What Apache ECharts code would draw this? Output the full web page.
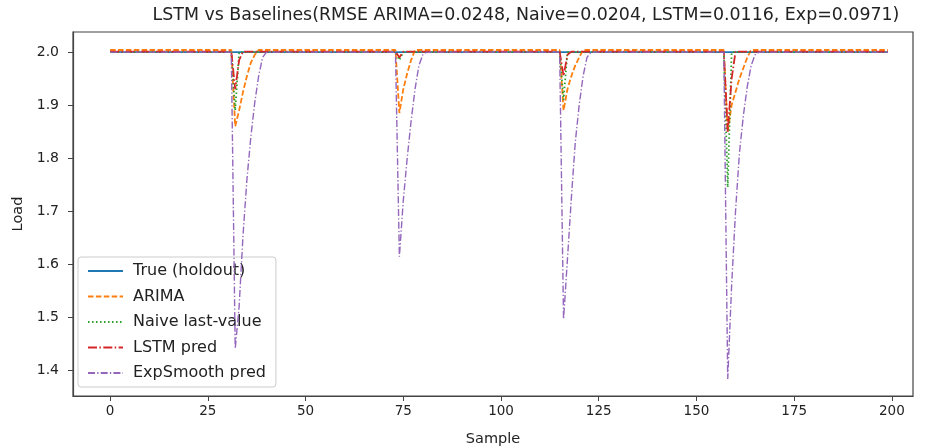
<!DOCTYPE html>
<html>
<head>
<meta charset="utf-8">
<script src="https://cdn.jsdelivr.net/npm/echarts@6/dist/echarts.min.js"></script>
<style>
html,body{margin:0;padding:0;background:#fff;}
#chart{width:928px;height:448px;}
</style>
</head>
<body>
<div id="chart"></div>
<script>
// ---- data ----
const titleText = 'LSTM vs Baselines(RMSE ARIMA=0.0248, Naive=0.0204, LSTM=0.0116, Exp=0.0971)';
const xTicks = [0, 25, 50, 75, 100, 125, 150, 175, 200];
const yTicks = [1.4, 1.5, 1.6, 1.7, 1.8, 1.9, 2.0];

const trueSamples = [0, 199];
const trueLoad    = [2.0, 2.0];

const arimaSamples = [0, 31, 32, 33, 34, 35, 36, 37, 38,
                      73, 74, 75, 76, 77, 78,
                      115, 116, 117, 118, 119, 120, 121,
                      157, 158, 159, 160, 161, 162, 163, 164, 199];
const arimaLoad    = [2.004, 2.004, 1.86, 1.89, 1.925, 1.955, 1.98, 1.995, 2.004,
                      2.004, 1.885, 1.93, 1.96, 1.985, 2.004,
                      2.004, 1.89, 1.93, 1.955, 1.975, 1.99, 2.004,
                      2.004, 1.85, 1.90, 1.925, 1.95, 1.97, 1.99, 2.004, 2.004];

const naiveSamples = [0, 31, 32, 33, 73, 74, 75, 115, 116, 117, 157, 158, 159, 199];
const naiveLoad    = [2.0, 2.0, 1.89, 2.0, 2.0, 1.985, 2.0, 2.0, 1.91, 2.0, 2.0, 1.745, 2.0, 2.0];

const lstmSamples = [0, 31, 32, 33, 34, 73, 74, 75, 115, 116, 117, 118, 157, 158, 159, 160, 199];
const lstmLoad    = [2.001, 2.001, 1.93, 1.985, 2.001, 2.001, 1.99, 2.001, 2.001, 1.955, 1.995, 2.001,
                     2.001, 1.85, 1.95, 2.001, 2.001];

const expSamples = [0, 31, 32, 33, 34, 35, 36, 37, 38, 39, 40,
                    73, 74, 75, 76, 77, 78, 79, 80, 81,
                    115, 116, 117, 118, 119, 120, 121, 122, 123,
                    157, 158, 159, 160, 161, 162, 163, 164, 165, 166, 199];
const expLoad    = [2.0, 2.0, 1.44, 1.52, 1.655, 1.76, 1.84, 1.905, 1.955, 1.99, 2.0,
                    2.0, 1.614, 1.72, 1.80, 1.87, 1.93, 1.975, 1.995, 2.0,
                    2.0, 1.496, 1.61, 1.725, 1.83, 1.90, 1.955, 1.99, 2.0,
                    2.0, 1.383, 1.56, 1.70, 1.81, 1.88, 1.935, 1.975, 1.995, 2.0, 2.0];

const seriesNames = ['True (holdout)', 'ARIMA', 'Naive last-value', 'LSTM pred', 'ExpSmooth pred'];
const seriesColors = ['#1f77b4', '#ff7f0e', '#2ca02c', '#d62728', '#9467bd'];

// ---- build ----
function pairs(xs, ys) { return xs.map((x, i) => [x, ys[i]]); }
const seriesData = [
  pairs(trueSamples, trueLoad),
  pairs(arimaSamples, arimaLoad),
  pairs(naiveSamples, naiveLoad),
  pairs(lstmSamples, lstmLoad),
  pairs(expSamples, expLoad)
];
const dashes = ['solid', [5.5, 2.4], [1.5, 2.5], [9, 2.4, 1.5, 2.4], [7, 2.2, 1.3, 2.2]];
const widths = [1.8, 1.8, 1.8, 1.8, 1.4];

const chart = echarts.init(document.getElementById('chart'), null, {renderer: 'canvas'});
const FONT = 'DejaVu Sans';
chart.setOption({
  animation: false,
  backgroundColor: '#fff',
  title: {
    text: titleText,
    left: 521, top: 2, textAlign: 'center',
    textStyle: {fontFamily: FONT, fontSize: 17.4, fontWeight: 'normal', color: '#222'}
  },
  grid: {left: 73, right: 15, top: 32, bottom: 52, show: true, borderColor: '#444', borderWidth: 1.2,
         outerBoundsMode: 'none', containLabel: false},
  legend: {
    orient: 'vertical', left: 78, top: 257,
    padding: [6, 10, 6, 9],
    itemWidth: 35, itemHeight: 14, itemGap: 9.5,
    itemStyle: {opacity: 0},
    backgroundColor: 'rgba(255,255,255,0.8)',
    borderColor: '#ccc', borderWidth: 1, borderRadius: 3,
    textStyle: {fontFamily: FONT, fontSize: 16, color: '#222', padding: [0, 0, 0, 5]},
    data: seriesNames
  },
  xAxis: {
    type: 'value', min: -9.5, max: 205.4,
    name: 'Sample', nameLocation: 'middle', nameGap: 36,
    nameTextStyle: {fontFamily: FONT, fontSize: 14.5, color: '#222'},
    axisLine: {show: true, onZero: false, lineStyle: {color: '#444', width: 1.2}},
    axisTick: {show: true, length: 5, customValues: xTicks, lineStyle: {color: '#444'}},
    axisLabel: {customValues: xTicks, fontFamily: FONT, fontSize: 13.5, color: '#222', margin: 8},
    splitLine: {show: false}
  },
  yAxis: {
    type: 'value', min: 1.351, max: 2.038,
    name: 'Load', nameLocation: 'middle', nameGap: 44,
    nameTextStyle: {fontFamily: FONT, fontSize: 14.5, color: '#222'},
    axisLine: {show: true, onZero: false, lineStyle: {color: '#444', width: 1.2}},
    axisTick: {show: true, length: 5, customValues: yTicks, lineStyle: {color: '#444'}},
    axisLabel: {customValues: yTicks, fontFamily: FONT, fontSize: 14, color: '#222', margin: 14,
                formatter: v => v.toFixed(1)},
    splitLine: {show: false}
  },
  series: seriesNames.map((name, i) => ({
    name: name, type: 'line', data: seriesData[i],
    showSymbol: false, symbol: 'none',
    color: seriesColors[i],
    lineStyle: {color: seriesColors[i], width: widths[i], type: dashes[i]},
    z: 2 + i
  }))
});
</script>
</body>
</html>
